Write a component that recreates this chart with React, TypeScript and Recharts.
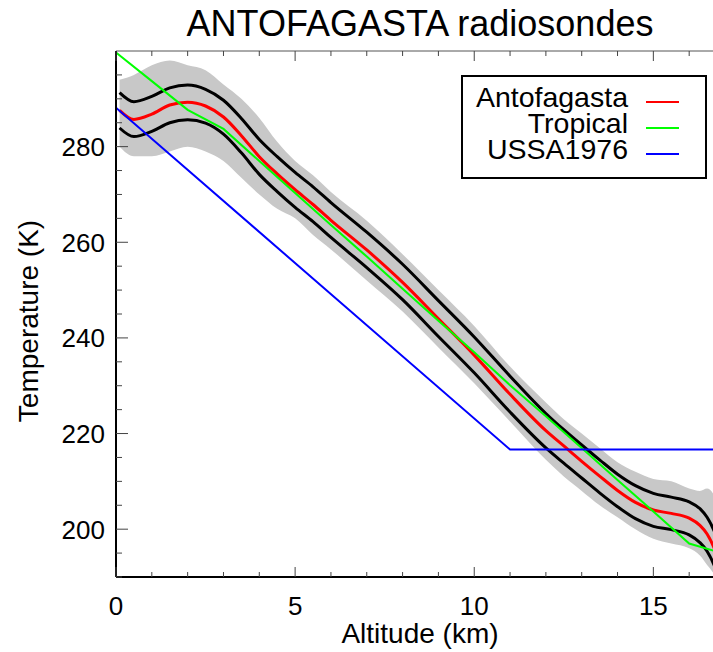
import React from 'react'
import { ComposedChart, Line, Area, XAxis, YAxis } from 'recharts'

// altitude grid (km) of the fitted Antofagasta profile
const altitude = [
  0.1, 0.5, 1.0, 1.5, 2.0, 2.5, 3.0, 3.5, 4.0, 4.5, 5.0, 5.5, 6.0, 7.0, 8.0,
  9.0, 10.0, 11.0, 12.0, 12.5, 13.0, 13.5, 14.0, 14.5, 15.0, 15.5, 16.0, 16.3,
  16.5, 16.7, 16.85,
]
// mean fit (red)
const antofagasta = [
  287.6, 285.7, 286.8, 288.7, 289.3, 288.5, 286.2, 282.3, 277.9, 274.3, 271.0,
  267.9, 264.6, 258.4, 251.6, 244.0, 236.4, 228.2, 220.6, 217.4, 214.2, 211.1,
  208.1, 205.6, 204.0, 203.3, 202.3, 200.8, 199.0, 196.0, 192.8,
]
// +/- envelope (black)
const upperFit = [
  291.3, 289.4, 290.5, 292.3, 292.9, 292.0, 289.7, 285.9, 281.5, 277.9, 274.6,
  271.6, 268.3, 262.1, 255.4, 247.8, 240.2, 232.0, 224.2, 220.8, 217.6, 214.5,
  211.5, 209.1, 207.5, 206.7, 205.7, 204.3, 202.5, 199.6, 196.6,
]
const lowerFit = [
  283.9, 282.1, 283.2, 285.0, 285.6, 284.9, 282.6, 278.7, 274.2, 270.6, 267.3,
  264.3, 261.0, 254.7, 248.0, 240.3, 232.7, 224.5, 217.0, 213.8, 210.7, 207.6,
  204.7, 202.2, 200.6, 199.9, 198.8, 197.2, 195.4, 192.4, 189.2,
]
// radiosonde cloud (grey), dense part
const cloudLow = [
  280, 278, 278, 279, 280, 279, 277, 273.5, 270, 267, 265, 261.5, 258.5, 252,
  245.5, 238, 230.5, 222.5, 214.5, 211, 208, 205, 202.5, 200, 198, 197, 196,
  194.5, 192.5, 190.5, 188,
]
const cloudHigh = [
  294, 295, 297, 298, 297, 296, 293, 290, 286, 281, 277, 274, 270.5, 264.5,
  257.5, 250, 242.5, 234, 226.5, 223, 220, 217, 214, 212, 210.5, 210, 208.5,
  208, 208.5, 207, 204,
]

// Tropical standard atmosphere
const tropicalAlt = [0, 1, 2, 3, 4, 5, 6, 7, 8, 9, 10, 11, 12, 13, 14, 15, 16, 17]
const tropicalTemp = [
  299.7, 293.7, 287.7, 283.7, 277.0, 270.3, 263.6, 257.0, 250.3, 243.6, 237.0,
  230.1, 223.6, 217.0, 210.3, 203.7, 197.0, 194.8,
]

// US standard atmosphere 1976
const ussaAlt = [0, 11, 17]
const ussaTemp = [288.15, 216.65, 216.65]

const xTicks = [0, 1, 2, 3, 4, 5, 6, 7, 8, 9, 10, 11, 12, 13, 14, 15, 16, 17]
const xLabels = [0, 5, 10, 15]
const yTicks = [
  190, 195, 200, 205, 210, 215, 220, 225, 230, 235, 240, 245, 250, 255, 260,
  265, 270, 275, 280, 285, 290, 295,
]
const yLabels = [200, 220, 240, 260, 280]

const legendItems = [
  { name: 'Antofagasta', color: '#ff0000' },
  { name: 'Tropical', color: '#00ff00' },
  { name: 'USSA1976', color: '#0000ff' },
]

const FONT = '"Liberation Sans", Arial, Helvetica, sans-serif'

const fitData = altitude.map((alt, i) => ({
  alt,
  mean: antofagasta[i],
  upper: upperFit[i],
  lower: lowerFit[i],
  cloud: [cloudLow[i], cloudHigh[i]],
}))
const tropicalData = tropicalAlt.map((alt, i) => ({ alt, temp: tropicalTemp[i] }))
const ussaData = ussaAlt.map((alt, i) => ({ alt, temp: ussaTemp[i] }))

const BottomTick = (props: any) => {
  const { x, y, payload } = props
  const major = xLabels.includes(payload.value)
  const len = major ? 10 : 5
  return (
    <g>
      <line x1={x} x2={x} y1={y} y2={y - len} stroke="#444" strokeWidth={1} />
      {major && (
        <text x={x} y={y + 37.5} textAnchor="middle" fontSize={26} fontFamily={FONT} fill="#000">
          {payload.value}
        </text>
      )}
    </g>
  )
}

const TopTick = (props: any) => {
  const { x, y, payload } = props
  const len = xLabels.includes(payload.value) ? 10 : 5
  return <line x1={x} x2={x} y1={y} y2={y + len} stroke="#444" strokeWidth={1} />
}

const LeftTick = (props: any) => {
  const { x, y, payload } = props
  const major = yLabels.includes(payload.value)
  const len = major ? 12 : 6
  return (
    <g>
      <line x1={x} x2={x + len} y1={y} y2={y} stroke="#444" strokeWidth={1} />
      {major && (
        <text x={x - 11} y={y + 9.5} textAnchor="end" fontSize={26} fontFamily={FONT} fill="#000">
          {payload.value}
        </text>
      )}
    </g>
  )
}

export default function App() {
  return (
    <div
      style={{
        position: 'fixed',
        left: 0,
        top: 0,
        width: 713,
        height: 652,
        overflow: 'hidden',
        background: '#fff',
        fontFamily: FONT,
      }}
    >
      <ComposedChart
        width={735}
        height={652}
        data={fitData}
        margin={{ top: 50, right: 10, left: 0, bottom: 10 }}
      >
        <XAxis
          xAxisId="top"
          orientation="top"
          dataKey="alt"
          type="number"
          domain={[0, 17]}
          allowDataOverflow
          ticks={xTicks}
          interval={0}
          height={1}
          tickSize={0}
          tickMargin={0}
          tickLine={false}
          axisLine={{ stroke: '#555', strokeWidth: 1 }}
          tick={<TopTick />}
        />
        <XAxis
          dataKey="alt"
          type="number"
          domain={[0, 17]}
          allowDataOverflow
          ticks={xTicks}
          interval={0}
          height={65}
          tickSize={0}
          tickMargin={0}
          tickLine={false}
          axisLine={{ stroke: '#000', strokeWidth: 2 }}
          tick={<BottomTick />}
        />
        <YAxis
          type="number"
          domain={[190, 300]}
          allowDataOverflow
          ticks={yTicks}
          interval={0}
          width={116}
          tickSize={0}
          tickMargin={0}
          tickLine={false}
          axisLine={{ stroke: '#000', strokeWidth: 2 }}
          tick={<LeftTick />}
        />
        <Area
          dataKey="cloud"
          type="monotone"
          stroke="none"
          fill="#c8c8c8"
          fillOpacity={1}
          isAnimationActive={false}
        />
        <Line dataKey="upper" type="monotone" stroke="#000" strokeWidth={3} dot={false} isAnimationActive={false} />
        <Line dataKey="lower" type="monotone" stroke="#000" strokeWidth={3} dot={false} isAnimationActive={false} />
        <Line dataKey="mean" type="monotone" stroke="#ff0000" strokeWidth={3} dot={false} isAnimationActive={false} />
        <Line
          data={tropicalData}
          dataKey="temp"
          type="linear"
          stroke="#00ff00"
          strokeWidth={2}
          dot={false}
          isAnimationActive={false}
        />
        <Line
          data={ussaData}
          dataKey="temp"
          type="linear"
          stroke="#0000ff"
          strokeWidth={2}
          dot={false}
          isAnimationActive={false}
        />
      </ComposedChart>

      {/* title */}
      <div
        style={{
          position: 'absolute',
          left: 0,
          width: 840,
          top: 5.5,
          textAlign: 'center',
          fontSize: 36,
          lineHeight: '36px',
          color: '#000',
        }}
      >
        ANTOFAGASTA radiosondes
      </div>

      {/* x axis title */}
      <div
        style={{
          position: 'absolute',
          left: 0,
          width: 840,
          top: 620,
          textAlign: 'center',
          fontSize: 28,
          lineHeight: '28px',
        }}
      >
        Altitude (km)
      </div>

      {/* y axis title */}
      <div
        style={{
          position: 'absolute',
          left: 29 - 150,
          top: 321 - 14,
          width: 300,
          height: 28,
          textAlign: 'center',
          fontSize: 28,
          lineHeight: '28px',
          transform: 'rotate(-90deg)',
        }}
      >
        Temperature (K)
      </div>

      {/* legend */}
      <div
        style={{
          position: 'absolute',
          left: 461,
          top: 75,
          width: 242,
          height: 100,
          border: '2px solid #000',
          background: '#fff',
        }}
      >
        {legendItems.map((item, i) => (
          <div
            key={item.name}
            style={{
              position: 'absolute',
              left: 0,
              top: 7 + i * 26,
              width: 236,
              height: 26,
            }}
          >
            <span
              style={{
                position: 'absolute',
                right: 71,
                top: 0,
                fontSize: 28.5,
                lineHeight: '26px',
                whiteSpace: 'nowrap',
              }}
            >
              {item.name}
            </span>
            <span
              style={{
                position: 'absolute',
                left: 183,
                top: 17,
                width: 33,
                height: 2,
                background: item.color,
              }}
            />
          </div>
        ))}
      </div>
    </div>
  )
}
